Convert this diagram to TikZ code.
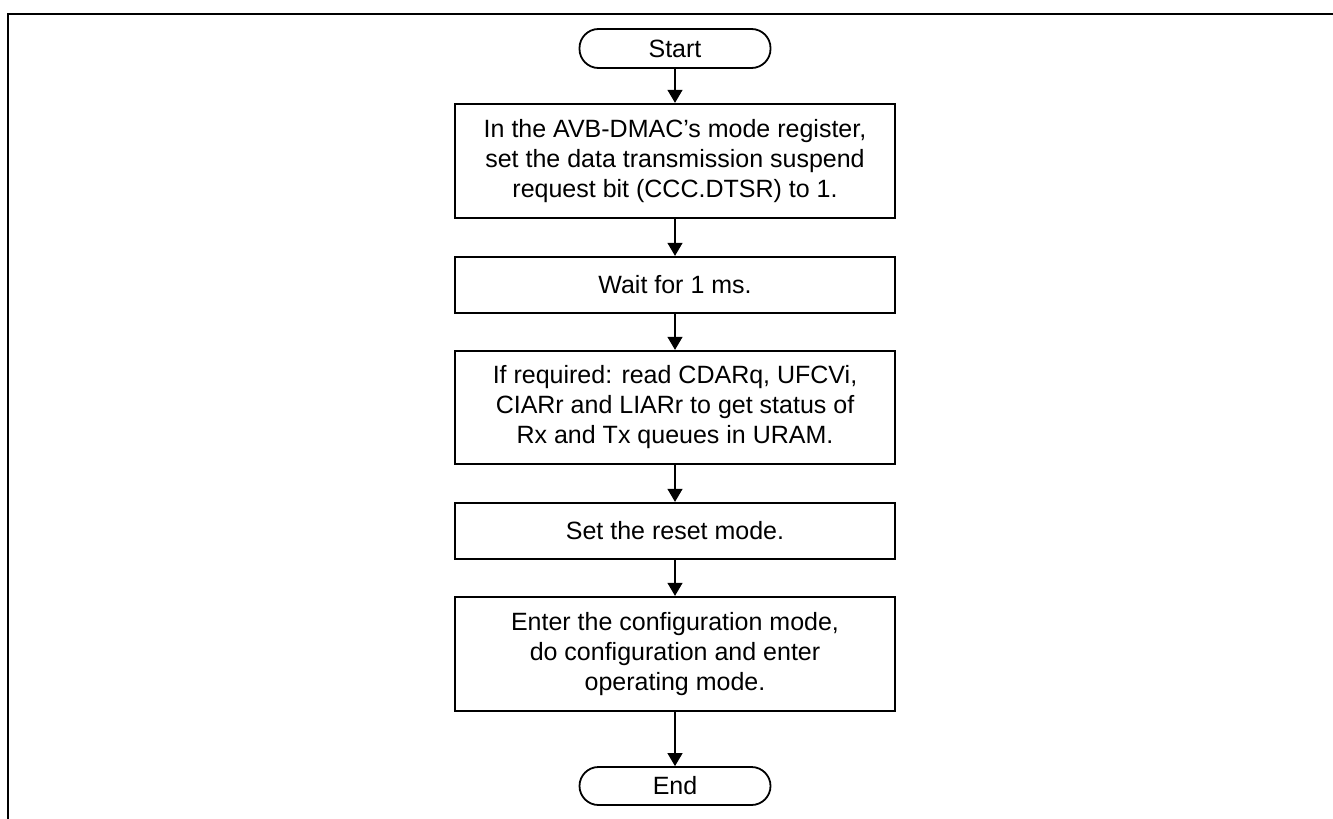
\documentclass[tikz,border=0pt]{standalone}
\usepackage{fontspec}
\setmainfont{Liberation Sans}
\usetikzlibrary{arrows.meta}
\begin{document}
\begin{tikzpicture}[x=1pt,y=-1pt,
  txt/.style={font=\fontsize{25}{30}\selectfont},
  proc/.style={txt,draw,line width=2.3pt,minimum width=440pt,align=center,inner sep=0pt},
  term/.style={txt,draw,line width=1.8pt,rounded corners=19pt,minimum width=191pt,minimum height=39pt,inner sep=0pt},
  flow/.style={line width=1.2pt,-{Triangle[width=15pt,length=13pt]}}]
\useasboundingbox (0,0) rectangle (1333,819);
\draw[line width=2.2pt] (1333,14) -- (8,14) -- (8,819);
\node[term] (start) at (675,48.5) {Start};
\node[proc,minimum height=114pt] (b1) at (675,161) {In the AVB-DMAC’s mode register,\\set the data transmission suspend\\request bit (CCC.DTSR) to 1.};
\node[proc,minimum height=56pt] (b2) at (675,285) {Wait for 1 ms.};
\node[proc,minimum height=113pt] (b3) at (675,407.5) {If required: read CDARq, UFCVi,\\CIARr and LIARr to get status of\\Rx and Tx queues in URAM.};
\node[proc,minimum height=56pt] (b4) at (675,531) {Set the reset mode.};
\node[proc,minimum height=114pt] (b5) at (675,654) {Enter the configuration mode,\\do configuration and enter\\operating mode.};
\node[term,minimum height=38pt] (end) at (675,786) {End};
\draw[flow] (start) -- (b1);
\draw[flow] (b1) -- (b2);
\draw[flow] (b2) -- (b3);
\draw[flow] (b3) -- (b4);
\draw[flow] (b4) -- (b5);
\draw[flow] (b5) -- (end);
\end{tikzpicture}
\end{document}
